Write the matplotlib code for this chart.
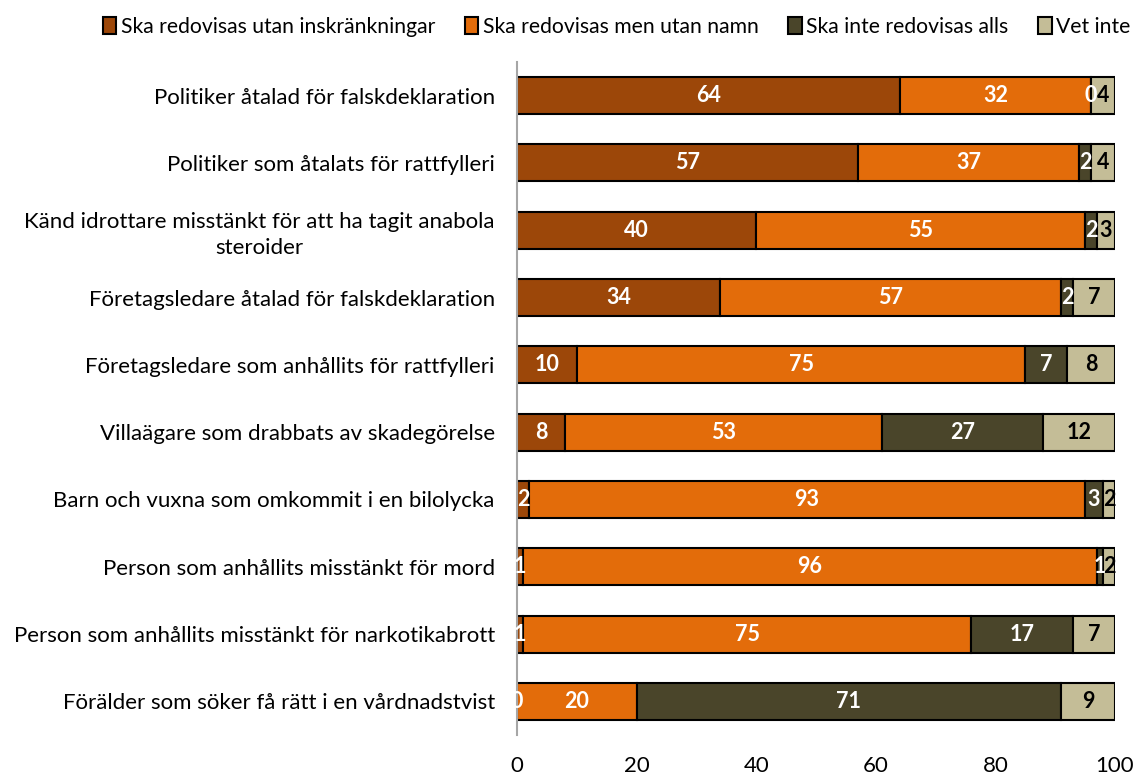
import matplotlib
matplotlib.use("Agg")
import matplotlib.pyplot as plt
import numpy as np

plt.rcParams['font.family'] = ['Lato', 'DejaVu Sans']

categories = [
    "Politiker åtalad för falskdeklaration",
    "Politiker som åtalats för rattfylleri",
    "Känd idrottare misstänkt för att ha tagit anabola\nsteroider",
    "Företagsledare åtalad för falskdeklaration",
    "Företagsledare som anhållits för rattfylleri",
    "Villaägare som drabbats av skadegörelse",
    "Barn och vuxna som omkommit i en bilolycka",
    "Person som anhållits misstänkt för mord",
    "Person som anhållits misstänkt för narkotikabrott",
    "Förälder som söker få rätt i en vårdnadstvist",
]
series_names = ["Ska redovisas utan inskränkningar", "Ska redovisas men utan namn",
                "Ska inte redovisas alls", "Vet inte"]
s1 = [64, 57, 40, 34, 10, 8, 2, 1, 1, 0]
s2 = [32, 37, 55, 57, 75, 53, 93, 96, 75, 20]
s3 = [0, 2, 2, 2, 7, 27, 3, 1, 17, 71]
s4 = [4, 4, 3, 7, 8, 12, 2, 2, 7, 9]
xticks = [0, 20, 40, 60, 80, 100]

colors = ["#9C4709", "#E36C0A", "#4A452A", "#C4BD97"]
text_colors = ["white", "white", "white", "black"]

fig = plt.figure(figsize=(11.38, 7.76), dpi=100)
ax = fig.add_axes([517/1138, 1-735/776, (1115-517)/1138, (735-62)/776])

y = np.arange(len(categories))
left = np.zeros(len(categories))
handles = []
for vals, col, tcol, name in zip([s1, s2, s3, s4], colors, text_colors, series_names):
    vals = np.array(vals, dtype=float)
    bars = ax.barh(y, vals, left=left, height=0.55, color=col, edgecolor="black",
                   linewidth=1.5, label=name)
    handles.append(bars)
    for yi, (l, v) in enumerate(zip(left, vals)):
        ax.text(l + v/2, yi, f"{int(v)}", ha="center", va="center", color=tcol,
                fontsize=15.5, fontweight="bold")
    left = left + vals

ax.set_xlim(0, 100)
ax.set_ylim(len(categories) - 0.5, -0.5)
ax.set_yticks(y)
ax.set_yticklabels(categories, fontsize=16)
for lab in ax.get_yticklabels():
    lab.set_multialignment("center")
    lab.set_linespacing(1.35)
ax.set_xticks(xticks)
ax.set_xticklabels([str(t) for t in xticks], fontsize=16)
ax.tick_params(axis="y", length=0, pad=16)
ax.tick_params(axis="x", length=0, pad=15)
for s in ["top", "right", "bottom"]:
    ax.spines[s].set_visible(False)
ax.spines["left"].set_color("#A6A6A6")
ax.spines["left"].set_linewidth(1.5)

fig.legend(handles=handles, labels=series_names, loc="upper left",
           bbox_to_anchor=(88/1138, 1.0 - 2/776), ncol=4, frameon=False,
           fontsize=15.2, handlelength=0.65, handleheight=0.85, handletextpad=0.2,
           columnspacing=1.4, borderaxespad=0.3)

fig.savefig("out.png", dpi=100)
